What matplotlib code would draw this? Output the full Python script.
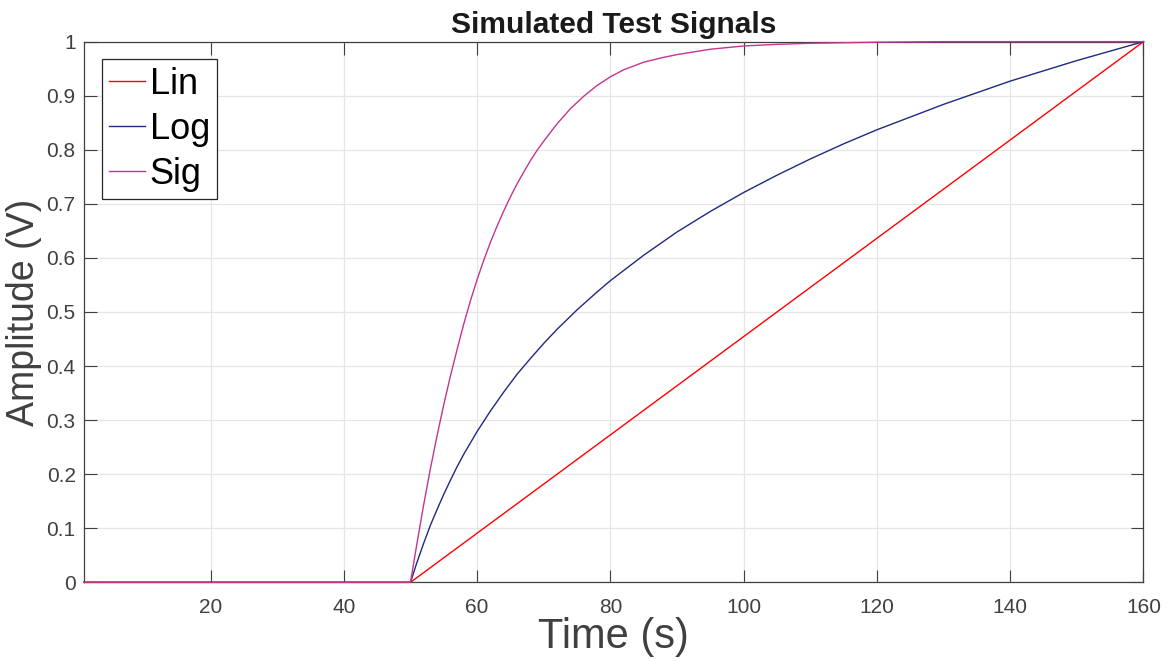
import matplotlib
matplotlib.use('Agg')
import matplotlib.pyplot as plt

plt.rcParams['font.family'] = ['Liberation Sans', 'DejaVu Sans']

# signals (time in s, amplitude in V)
lin_t = [1, 50, 160]
lin_v = [0, 0, 1]

log_t = [1, 50, 51, 52, 53, 54, 55, 56, 57, 58, 59, 60, 62, 64, 66, 68, 70, 72, 75, 78, 80,
         85, 90, 95, 100, 105, 110, 115, 120, 130, 140, 150, 160]
log_v = [0, 0, 0.038, 0.073, 0.106, 0.135, 0.163, 0.189, 0.214, 0.237, 0.258, 0.279,
         0.317, 0.352, 0.385, 0.414, 0.442, 0.468, 0.504, 0.537, 0.558,
         0.605, 0.648, 0.686, 0.721, 0.753, 0.783, 0.811, 0.837, 0.884, 0.927, 0.965, 1.0]

sig_t = [1, 50, 51, 52, 53, 54, 55, 56, 57, 58, 59, 60, 61, 62, 63, 64, 65, 66, 67, 68, 69, 70,
         72, 74, 76, 78, 80, 82, 85, 88, 90, 95, 100, 105, 110, 120, 130, 140, 150, 160]
sig_v = [0, 0, 0.074, 0.145, 0.211, 0.272, 0.329, 0.382, 0.431, 0.478, 0.521, 0.56,
         0.596, 0.629, 0.659, 0.687, 0.713, 0.737, 0.759, 0.78, 0.799, 0.816,
         0.848, 0.876, 0.899, 0.919, 0.935, 0.948, 0.962, 0.971, 0.976, 0.986, 0.992,
         0.995, 0.997, 0.999, 1.0, 1.0, 1.0, 1.0]

fig = plt.figure(figsize=(11.68, 6.61), dpi=100)
ax = fig.add_axes([0.0719, 0.119, 0.9071, 0.818])

# lines drawn above the box so the zero segment shows like in MATLAB
ax.plot(lin_t, lin_v, color='#ff0000', lw=1.0, label='Lin', zorder=3, clip_on=False)
ax.plot(log_t, log_v, color='#1f2a80', lw=1.0, label='Log', zorder=3, clip_on=False)
ax.plot(sig_t, sig_v, color='#c2368f', lw=1.0, label='Sig', zorder=3, clip_on=False)

ax.set_xlim(1, 160)
ax.set_ylim(0, 1)
ax.set_xticks([20, 40, 60, 80, 100, 120, 140, 160])
ax.set_yticks([i / 10 for i in range(11)])
ax.set_yticklabels(['0', '0.1', '0.2', '0.3', '0.4', '0.5', '0.6', '0.7', '0.8', '0.9', '1'])

ax.grid(True, color='#e6e6e6', lw=0.9)
ax.set_axisbelow(True)
ax.tick_params(direction='in', length=9, width=0.8, colors='#404040', labelsize=15,
               top=True, right=True)
ax.tick_params(axis='x', pad=11)
ax.tick_params(axis='y', pad=6)
for s in ax.spines.values():
    s.set_color('#404040')
    s.set_linewidth(0.9)

ax.set_xlabel('Time (s)', fontsize=30, color='#404040', labelpad=0)
ax.set_ylabel('Amplitude (V)', fontsize=27, color='#404040', labelpad=3)
ax.set_title('Simulated Test Signals', fontsize=21.5, fontweight='bold', color='#1a1a1a', pad=6)

leg = ax.legend(loc='upper left', fontsize=26, fancybox=False, framealpha=1,
                edgecolor='#262626', handlelength=1.0, handletextpad=0.12,
                borderpad=0.2, labelspacing=0.28, borderaxespad=0,
                bbox_to_anchor=(0.017, 0.967))
leg.get_frame().set_linewidth(0.9)
leg.set_zorder(5)

fig.savefig('out.png', dpi=100)
